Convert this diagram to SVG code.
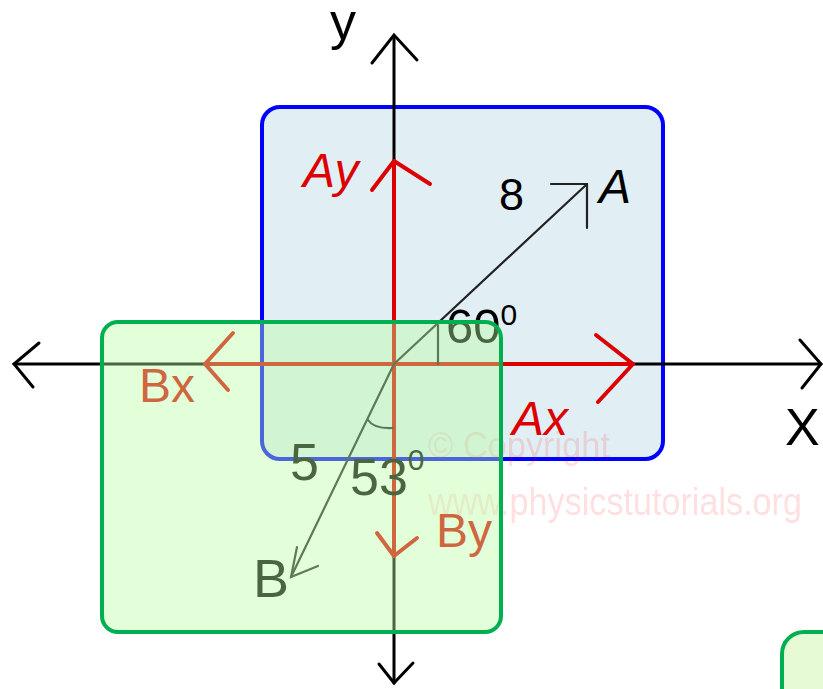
<svg xmlns="http://www.w3.org/2000/svg" width="823" height="689" viewBox="0 0 823 689">
<style>
.lbl{font-family:"Liberation Sans","DejaVu Sans",sans-serif;}
.blk{fill:#000}
.red{fill:#dd0000}
.ax{stroke:#000;stroke-width:3;fill:none;stroke-linecap:round}
.rv{stroke:#dd0000;stroke-width:4;fill:none;stroke-linecap:round;stroke-linejoin:round}
.bv{stroke:#222;stroke-width:2.2;fill:none;stroke-linecap:round}
.wm{fill:#ff0000;fill-opacity:0.14;font-family:"Liberation Sans","DejaVu Sans",sans-serif}
</style>
<rect width="823" height="689" fill="#fff"/>
<g id="blue-box">
<rect x="262" y="107" width="401" height="352" rx="18" fill="#e1eff5" stroke="#0000ff" stroke-width="4"/>
</g>
<g id="connectors">
<line class="ax" x1="394" y1="36" x2="394" y2="683"/>
<polyline class="ax" points="372,63 394,35 417,60" stroke="#333" stroke-width="4"/>
<polyline class="ax" points="379,664 394,683 413,663"/>
<line class="ax" x1="14" y1="364" x2="821" y2="364"/>
<polyline class="ax" points="39,343 14,364 33,387"/>
<polyline class="ax" points="800,340 821,364 802,388" stroke="#333"/>
<line class="rv" x1="394" y1="364" x2="394" y2="161"/>
<polyline class="rv" points="372,190 394,161 430,184"/>
<line class="rv" x1="394" y1="364" x2="633" y2="364"/>
<polyline class="rv" points="596,335 633,364 598,402"/>
<line class="rv" x1="394" y1="364" x2="205" y2="364"/>
<polyline class="rv" points="233,333 205,364 228,390"/>
<line class="rv" x1="394" y1="364" x2="394" y2="556"/>
<polyline class="rv" points="377,533 394,556 417,538"/>
<line class="bv" x1="394" y1="364" x2="586" y2="185"/>
<polyline class="bv" points="551,184 587,184 587,228" stroke-width="2.6"/>
<line class="bv" x1="438" y1="325" x2="438" y2="364"/>
<line class="bv" x1="394" y1="364" x2="291" y2="577" stroke-width="2.6"/>
<polyline class="bv" points="297,547 291,577 318,566" stroke-width="2.6"/>
<path class="bv" d="M368,420 Q374,429 393,428"/>
</g>
<g id="labels">
<text class="lbl blk" x="330" y="39" font-size="52">y</text>
<text class="lbl blk" x="785" y="445" font-size="52">X</text>
<text class="lbl red" x="303" y="187" font-size="48" font-style="italic">Ay</text>
<text class="lbl red" x="512" y="435" font-size="48" font-style="italic">Ax</text>
<text class="lbl red" x="139" y="402" font-size="48">Bx</text>
<text class="lbl red" x="436" y="547" font-size="48">By</text>
<text class="lbl blk" x="499" y="210" font-size="45">8</text>
<text class="lbl blk" x="599" y="203" font-size="48" font-style="italic">A</text>
<text class="lbl blk" x="446" y="343" font-size="49">60<tspan font-size="30" dy="-18">0</tspan></text>
<text class="lbl blk" x="290" y="480" font-size="52">5</text>
<text class="lbl blk" x="350" y="495" font-size="52">53<tspan font-size="30" dy="-25">0</tspan></text>
<text class="lbl blk" x="253" y="597" font-size="54">B</text>
<text class="wm" x="428" y="458" font-size="36" textLength="182" lengthAdjust="spacingAndGlyphs">© Copyright</text>
<text class="wm" x="428" y="515" font-size="38" textLength="374" lengthAdjust="spacingAndGlyphs">www.physicstutorials.org</text>
</g>
<g id="green-box">
<rect x="102" y="322" width="399" height="310" rx="16" fill="#b9ffa0" fill-opacity="0.4" stroke="none"/>
<rect x="102" y="322" width="399" height="310" rx="16" fill="none" stroke="#00b050" stroke-width="4"/>
</g>
<g id="green-box-2">
<rect x="782" y="632" width="80" height="80" rx="22" fill="#e6fbd5" stroke="#00b050" stroke-width="4"/>
</g>
</svg>
